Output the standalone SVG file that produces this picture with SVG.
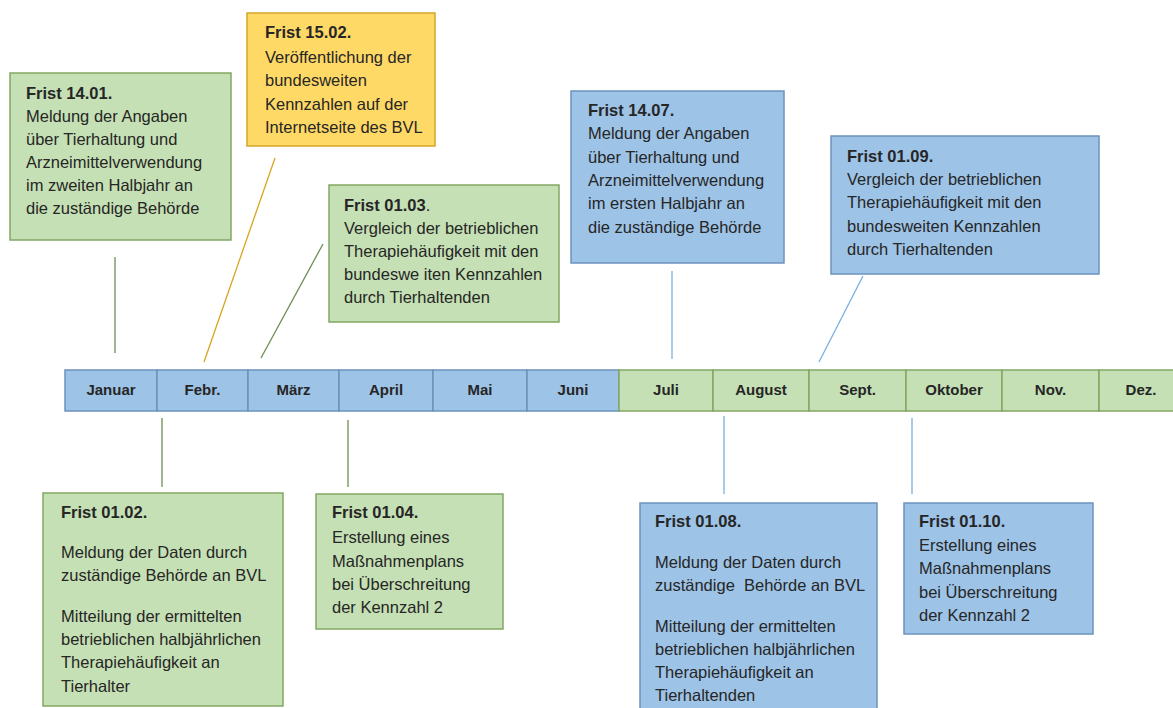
<svg xmlns="http://www.w3.org/2000/svg" width="1173" height="708" viewBox="0 0 1173 708">
<style>
.g{fill:#C5E0B4;stroke:#82A864;stroke-width:1.5}
.b{fill:#9DC3E6;stroke:#6C93BD;stroke-width:1.5}
.y{fill:#FFD966;stroke:#D4A62A;stroke-width:1.5}
text{font-family:"Liberation Sans",Arial,sans-serif;font-size:16.5px;fill:#262626}
.t{font-weight:bold}
.m{font-weight:bold;font-size:15px;text-anchor:middle}
.lg{stroke:#6E8E52;stroke-width:1.3;fill:none}
.ly{stroke:#D9A520;stroke-width:1.3;fill:none}
.lb{stroke:#7AAEE0;stroke-width:1.3;fill:none}
</style>
<g id="connectors">
<line class="lg" x1="115" y1="257" x2="115" y2="353"/>
<line class="ly" x1="275" y1="158" x2="204" y2="362"/>
<line class="lg" x1="323" y1="244" x2="261" y2="358"/>
<line class="lb" x1="672" y1="271" x2="672" y2="359"/>
<line class="lb" x1="863" y1="276" x2="819" y2="362"/>
<line class="lg" x1="162" y1="418" x2="162" y2="487"/>
<line class="lg" x1="348" y1="420" x2="348" y2="487"/>
<line class="lb" x1="724" y1="416" x2="724" y2="494"/>
<line class="lb" x1="912" y1="418" x2="912" y2="494"/>
</g>
<g id="timeline">
<g id="m01"><rect class="b" x="65" y="370" width="92" height="41"/><text class="m" x="111" y="395">Januar</text></g>
<g id="m02"><rect class="b" x="157" y="370" width="91" height="41"/><text class="m" x="202.5" y="395">Febr.</text></g>
<g id="m03"><rect class="b" x="248" y="370" width="91" height="41"/><text class="m" x="293.5" y="395">März</text></g>
<g id="m04"><rect class="b" x="339" y="370" width="94" height="41"/><text class="m" x="386" y="395">April</text></g>
<g id="m05"><rect class="b" x="433" y="370" width="94" height="41"/><text class="m" x="480" y="395">Mai</text></g>
<g id="m06"><rect class="b" x="527" y="370" width="92" height="41"/><text class="m" x="573" y="395">Juni</text></g>
<g id="m07"><rect class="g" x="619" y="370" width="94" height="41"/><text class="m" x="666" y="395">Juli</text></g>
<g id="m08"><rect class="g" x="713" y="370" width="96" height="41"/><text class="m" x="761" y="395">August</text></g>
<g id="m09"><rect class="g" x="809" y="370" width="97" height="41"/><text class="m" x="857.5" y="395">Sept.</text></g>
<g id="m10"><rect class="g" x="906" y="370" width="96" height="41"/><text class="m" x="954" y="395">Oktober</text></g>
<g id="m11"><rect class="g" x="1002" y="370" width="97" height="41"/><text class="m" x="1050.5" y="395">Nov.</text></g>
<g id="m12"><rect class="g" x="1099" y="370" width="90" height="41"/><text class="m" x="1141" y="395">Dez.</text></g>
</g>
<g id="n1401">
<rect class="g" x="10" y="73" width="221" height="167"/>
<text x="26" y="99"><tspan class="t">Frist 14.01.</tspan><tspan x="26" y="122">Meldung der Angaben</tspan><tspan x="26" y="145">über Tierhaltung und</tspan><tspan x="26" y="168">Arzneimittelverwendung</tspan><tspan x="26" y="191">im zweiten Halbjahr an</tspan><tspan x="26" y="214">die zuständige Behörde</tspan></text>
</g>
<g id="n1502">
<rect class="y" x="247" y="13" width="188" height="133"/>
<text x="265" y="38"><tspan class="t">Frist 15.02.</tspan><tspan x="265" y="63">Veröffentlichung der</tspan><tspan x="265" y="86">bundesweiten</tspan><tspan x="265" y="110">Kennzahlen auf der</tspan><tspan x="265" y="133">Internetseite des BVL</tspan></text>
</g>
<g id="n0103">
<rect class="g" x="329" y="185" width="230" height="137"/>
<text x="344" y="211"><tspan class="t">Frist 01.03</tspan>.<tspan x="344" y="234">Vergleich der betrieblichen</tspan><tspan x="344" y="257">Therapiehäufigkeit mit den</tspan><tspan x="344" y="280">bundeswe iten Kennzahlen</tspan><tspan x="344" y="303">durch Tierhaltenden</tspan></text>
</g>
<g id="n1407">
<rect class="b" x="571" y="91" width="213" height="172"/>
<text x="588" y="116"><tspan class="t">Frist 14.07.</tspan><tspan x="588" y="139">Meldung der Angaben</tspan><tspan x="588" y="163">über Tierhaltung und</tspan><tspan x="588" y="186">Arzneimittelverwendung</tspan><tspan x="588" y="209">im ersten Halbjahr an</tspan><tspan x="588" y="233">die zuständige Behörde</tspan></text>
</g>
<g id="n0109">
<rect class="b" x="831" y="136" width="268" height="138"/>
<text x="847" y="162"><tspan class="t">Frist 01.09.</tspan><tspan x="847" y="185">Vergleich der betrieblichen</tspan><tspan x="847" y="208">Therapiehäufigkeit mit den</tspan><tspan x="847" y="232">bundesweiten Kennzahlen</tspan><tspan x="847" y="255">durch Tierhaltenden</tspan></text>
</g>
<g id="n0102">
<rect class="g" x="43" y="493" width="240" height="213"/>
<text x="61" y="518"><tspan class="t">Frist 01.02.</tspan><tspan x="61" y="558">Meldung der Daten durch</tspan><tspan x="61" y="581">zuständige Behörde an BVL</tspan><tspan x="61" y="622">Mitteilung der ermittelten</tspan><tspan x="61" y="645">betrieblichen halbjährlichen</tspan><tspan x="61" y="668">Therapiehäufigkeit an</tspan><tspan x="61" y="692">Tierhalter</tspan></text>
</g>
<g id="n0104">
<rect class="g" x="316" y="494" width="187" height="135"/>
<text x="332" y="518"><tspan class="t">Frist 01.04.</tspan><tspan x="332" y="543">Erstellung eines</tspan><tspan x="332" y="567">Maßnahmenplans</tspan><tspan x="332" y="590">bei Überschreitung</tspan><tspan x="332" y="613">der Kennzahl 2</tspan></text>
</g>
<g id="n0108">
<rect class="b" x="640" y="503" width="237" height="215"/>
<text x="655" y="527" xml:space="preserve"><tspan class="t">Frist 01.08.</tspan><tspan x="655" y="568">Meldung der Daten durch</tspan><tspan x="655" y="591">zuständige  Behörde an BVL</tspan><tspan x="655" y="632">Mitteilung der ermittelten</tspan><tspan x="655" y="655">betrieblichen halbjährlichen</tspan><tspan x="655" y="678">Therapiehäufigkeit an</tspan><tspan x="655" y="701">Tierhaltenden</tspan></text>
</g>
<g id="n0110">
<rect class="b" x="904" y="503" width="189" height="131"/>
<text x="919" y="527"><tspan class="t">Frist 01.10.</tspan><tspan x="919" y="551">Erstellung eines</tspan><tspan x="919" y="574">Maßnahmenplans</tspan><tspan x="919" y="598">bei Überschreitung</tspan><tspan x="919" y="621">der Kennzahl 2</tspan></text>
</g>
</svg>
